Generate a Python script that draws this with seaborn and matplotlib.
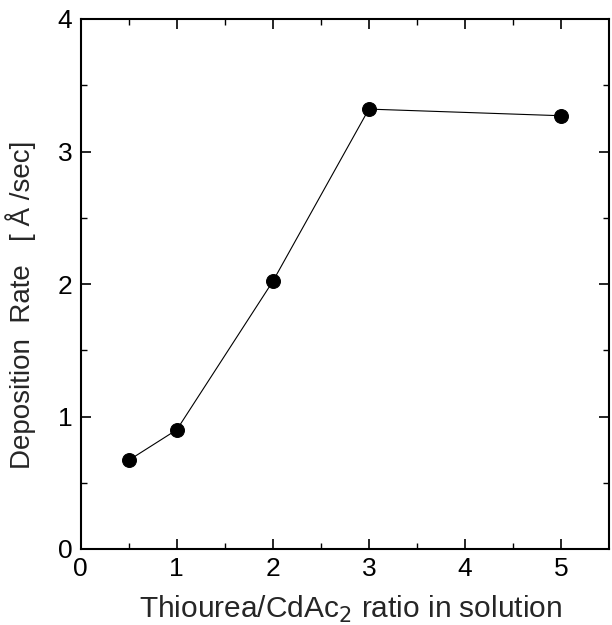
import matplotlib
matplotlib.use("Agg")
import matplotlib.pyplot as plt
import seaborn as sns
import pandas as pd

ratio = [0.5, 1, 2, 3, 5]
rate = [0.67, 0.90, 2.02, 3.32, 3.27]

sns.set_theme(style="ticks")
plt.rcParams['font.family'] = ['Liberation Sans', 'DejaVu Sans']

df = pd.DataFrame({"ratio": ratio, "rate": rate})
fig = plt.figure(figsize=(6.12, 6.25), dpi=100)
ax = fig.add_axes([0.132, 0.1216, 0.863, 0.848])
sns.lineplot(data=df, x="ratio", y="rate", ax=ax, color="black", linewidth=0.8,
             marker="o", markersize=10, markerfacecolor="black", markeredgecolor="black")
ax.set_xlim(0, 5.5)
ax.set_ylim(0, 4)
ax.set_xticks([0, 1, 2, 3, 4, 5])
ax.set_yticks([0, 1, 2, 3, 4])
ax.set_xticks([0.5, 1.5, 2.5, 3.5, 4.5], minor=True)
ax.set_yticks([0.5, 1.5, 2.5, 3.5], minor=True)
ax.tick_params(which="both", direction="in", top=True, right=True, labelsize=19, colors="black")
ax.tick_params(which="major", length=7, width=1.2, pad=6)
ax.tick_params(which="minor", length=4, width=1)
for s in ax.spines.values():
    s.set_linewidth(1.5)
    s.set_color("black")
ax.set_xlabel("Thiourea/CdAc$_2$ ratio in solution", fontsize=21.5)
ax.set_ylabel("Deposition  Rate   [ Å /sec]", fontsize=20)
ax.xaxis.set_label_coords(0.51, -0.085)
ax.yaxis.set_label_coords(-0.085, 0.46)
fig.savefig("out.png", dpi=100)
